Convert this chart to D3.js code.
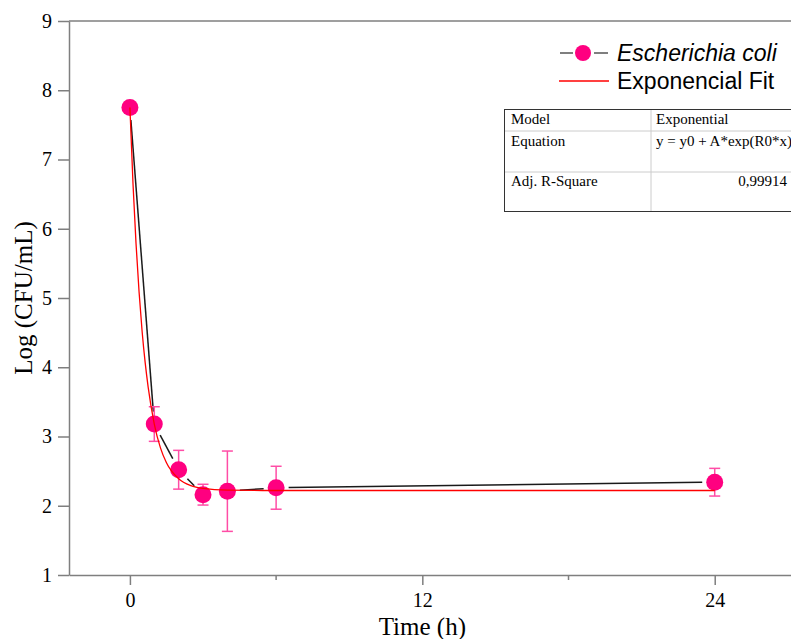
<!DOCTYPE html>
<html>
<head>
<meta charset="utf-8">
<script src="https://cdn.jsdelivr.net/npm/d3@7"></script>
<style>
  body { margin: 0; background: #fff; }
  svg { display: block; }
</style>
</head>
<body>
<div id="chart"></div>
<script>
const times = [0, 1, 2, 3, 4, 6, 24];
const logCFU = [7.75, 3.18, 2.52, 2.16, 2.21, 2.26, 2.34];
const errors = [0, 0.25, 0.28, 0.15, 0.58, 0.31, 0.20];

// Points
const fitTimes = [0, 0.125, 0.25, 0.375, 0.5, 0.625, 0.75, 1, 1.25, 1.5, 2, 2.5, 3, 4, 6, 12, 24];
const fitValues = [7.75, 6.66, 5.79, 5.09, 4.52, 4.07, 3.71, 3.18, 2.84, 2.62, 2.39, 2.29, 2.25, 2.225, 2.22, 2.22, 2.22];

const xTicks = [0, 12, 24];
const xMinorTicks = [6, 18];
const yTicks = [1, 2, 3, 4, 5, 6, 7, 8, 9];

const seriesNames = ["Escherichia coli", "Exponencial Fit"];
const tableRows = [
  ["Model", "Exponential"],
  ["Equation", "y = y0 + A*exp(R0*x)"],
  ["Adj. R-Square", "0,99914"]
];

// Chart dimensions
const width = 791;
const height = 639;
const marginLeft = 69;
const marginTop = 21;
const plotBottom = 575;
const axisColor = "#7f7f7f";
const pink = "#ff0080";
const serif = "'Liberation Serif', 'Times New Roman', serif";
const sans = "'Liberation Sans', Arial, sans-serif";

const x = d3.scaleLinear([-2.5, 27.5], [marginLeft, 800]);
const y = d3.scaleLinear([1, 9], [plotBottom, marginTop]);

const svg = d3.create("svg")
  .attr("width", width)
  .attr("height", height)
  .attr("viewBox", [0, 0, width, height]);

d3.select("#chart").append(() => svg.node());

// Frame (top line, left and bottom axes)
svg.append("line")
  .attr("x1", marginLeft).attr("x2", width)
  .attr("y1", marginTop).attr("y2", marginTop)
  .attr("stroke", axisColor).attr("stroke-width", 1.5);

// x axis
svg.append("g")
  .attr("transform", `translate(0,${plotBottom})`)
  .call(d3.axisBottom(x).tickValues(xTicks).tickSize(10).tickPadding(8).tickSizeOuter(0))
  .call(g => g.select(".domain").attr("stroke", axisColor).attr("stroke-width", 1.5))
  .call(g => g.selectAll(".tick line").attr("stroke", axisColor).attr("stroke-width", 1.5))
  .call(g => g.selectAll(".tick text").attr("font-family", serif).attr("font-size", 20).attr("fill", "#000"));

svg.append("g")
  .attr("transform", `translate(0,${plotBottom})`)
  .selectAll("line")
  .data(xMinorTicks)
  .join("line")
  .attr("x1", d => x(d)).attr("x2", d => x(d))
  .attr("y1", 0).attr("y2", 5)
  .attr("stroke", axisColor).attr("stroke-width", 1.5);

// y axis
svg.append("g")
  .attr("transform", `translate(${marginLeft},0)`)
  .call(d3.axisLeft(y).tickValues(yTicks).tickSize(11).tickPadding(6).tickSizeOuter(0))
  .call(g => g.select(".domain").attr("stroke", axisColor).attr("stroke-width", 1.5))
  .call(g => g.selectAll(".tick line").attr("stroke", axisColor).attr("stroke-width", 1.5))
  .call(g => g.selectAll(".tick text").attr("font-family", serif).attr("font-size", 20).attr("fill", "#000"));

// Axis titles
svg.append("text")
  .attr("x", x(12)).attr("y", 635)
  .attr("text-anchor", "middle")
  .attr("font-family", serif).attr("font-size", 25)
  .text("Time (h)");

svg.append("text")
  .attr("transform", `translate(32,${y(5)}) rotate(-90)`)
  .attr("text-anchor", "middle")
  .attr("font-family", serif).attr("font-size", 25)
  .text("Log (CFU/mL)");

const data = times.map((t, i) => ({t, v: logCFU[i], e: errors[i]}));
const r = 8.5;

// Connecting line segments with gaps around the markers
const segs = d3.pairs(data).map(([a, b]) => {
  const x1 = x(a.t), y1 = y(a.v), x2 = x(b.t), y2 = y(b.v);
  const len = Math.hypot(x2 - x1, y2 - y1);
  const g = r + 4;
  const ux = (x2 - x1) / len, uy = (y2 - y1) / len;
  return {x1: x1 + ux * g, y1: y1 + uy * g, x2: x2 - ux * g, y2: y2 - uy * g, ok: len > 2 * g};
}).filter(s => s.ok);

svg.append("g")
  .selectAll("line")
  .data(segs)
  .join("line")
  .attr("x1", d => d.x1).attr("y1", d => d.y1)
  .attr("x2", d => d.x2).attr("y2", d => d.y2)
  .attr("stroke", "#1a1a1a").attr("stroke-width", 1.5);

// Error bars
const eb = svg.append("g")
  .attr("stroke", "#ff4da6").attr("stroke-width", 1.5)
  .selectAll("g")
  .data(data.filter(d => d.e > 0))
  .join("g");

eb.append("line")
  .attr("x1", d => x(d.t)).attr("x2", d => x(d.t))
  .attr("y1", d => y(d.v + d.e)).attr("y2", d => y(d.v - d.e));
eb.append("line")
  .attr("x1", d => x(d.t) - 5.5).attr("x2", d => x(d.t) + 5.5)
  .attr("y1", d => y(d.v + d.e)).attr("y2", d => y(d.v + d.e));
eb.append("line")
  .attr("x1", d => x(d.t) - 5.5).attr("x2", d => x(d.t) + 5.5)
  .attr("y1", d => y(d.v - d.e)).attr("y2", d => y(d.v - d.e));

// Markers
svg.append("g")
  .selectAll("circle")
  .data(data)
  .join("circle")
  .attr("cx", d => x(d.t)).attr("cy", d => y(d.v))
  .attr("r", r)
  .attr("fill", pink);

// Fit curve
const fitLine = d3.line()
  .x((d, i) => x(fitTimes[i]))
  .y(d => y(d))
  .curve(d3.curveMonotoneX);

svg.append("path")
  .attr("d", fitLine(fitValues))
  .attr("fill", "none")
  .attr("stroke", "#ff0000")
  .attr("stroke-width", 1.3);

// Legend
const legend = svg.append("g");
legend.append("line").attr("x1", 560).attr("x2", 573).attr("y1", 53).attr("y2", 53)
  .attr("stroke", "#555").attr("stroke-width", 1.5);
legend.append("line").attr("x1", 594).attr("x2", 608).attr("y1", 53).attr("y2", 53)
  .attr("stroke", "#555").attr("stroke-width", 1.5);
legend.append("circle").attr("cx", 583).attr("cy", 53).attr("r", 8).attr("fill", pink);
legend.append("text").attr("x", 617).attr("y", 61)
  .attr("font-family", sans).attr("font-size", 23).attr("font-style", "italic")
  .text(seriesNames[0]);
legend.append("line").attr("x1", 559).attr("x2", 609).attr("y1", 81).attr("y2", 81)
  .attr("stroke", "#ff0000").attr("stroke-width", 1.3);
legend.append("text").attr("x", 617).attr("y", 89)
  .attr("font-family", sans).attr("font-size", 23)
  .text(seriesNames[1]);

// Fit results table
const table = svg.append("g").attr("font-family", serif).attr("font-size", 15);
table.append("line").attr("x1", 505).attr("x2", width).attr("y1", 131).attr("y2", 131)
  .attr("stroke", "#cccccc").attr("stroke-width", 1);
table.append("line").attr("x1", 505).attr("x2", width).attr("y1", 172).attr("y2", 172)
  .attr("stroke", "#cccccc").attr("stroke-width", 1);
table.append("line").attr("x1", 651).attr("x2", 651).attr("y1", 109).attr("y2", 212)
  .attr("stroke", "#cccccc").attr("stroke-width", 1);
table.append("rect").attr("x", 504.5).attr("y", 109.5).attr("width", 320).attr("height", 102)
  .attr("fill", "none").attr("stroke", "#333").attr("stroke-width", 1);

const rowBase = [124, 146, 186];
tableRows.forEach((row, i) => {
  table.append("text").attr("x", 511).attr("y", rowBase[i]).text(row[0]);
  if (i === 2) {
    table.append("text").attr("x", 787).attr("y", rowBase[i]).attr("text-anchor", "end").text(row[1]);
  } else {
    table.append("text").attr("x", 656).attr("y", rowBase[i]).text(row[1]);
  }
});
</script>
</body>
</html>
